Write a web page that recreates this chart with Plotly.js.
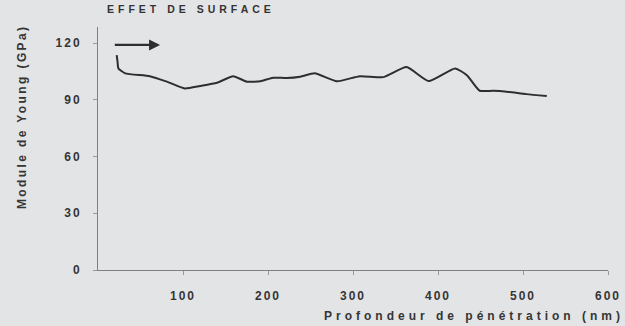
<!DOCTYPE html>
<html>
<head>
<meta charset="utf-8">
<script src="https://cdn.plot.ly/plotly-3.0.1.min.js"></script>
<style>
html,body{margin:0;padding:0;background:#e3e4e6;}
#chart{width:625px;height:326px;}
.annotation-text{letter-spacing:4px;}
.annotation[data-index="3"] .annotation-text{letter-spacing:2.4px;}
.xtick text,.ytick text{letter-spacing:2px;}
</style>
</head>
<body>
<div id="chart"></div>
<script>
// Penetration depth (nm) and Young's modulus (GPa)
const depth = [22, 23, 24, 32, 61, 81, 102, 120, 140, 159, 175, 191, 206, 222, 238, 255, 281, 308, 336, 363, 389, 420, 434, 449, 465, 481, 504, 528];
const modulus = [113.6, 110, 106.6, 104, 102.5, 99.6, 96, 97.3, 99, 102.5, 99.6, 99.8, 101.7, 101.5, 102.2, 104, 99.8, 102.5, 102, 107.3, 99.9, 106.6, 103, 94.8, 94.8, 94.3, 93, 92];
const xTicks = [100, 200, 300, 400, 500, 600];
const yTicks = [0, 30, 60, 90, 120];
const titleX = "Profondeur de pénétration (nm)";
const titleY = "Module de Young (GPa)";
const note = "EFFET DE SURFACE";

const fam = "Liberation Sans, Arial, sans-serif";
const tickFont = {family: fam, size: 12, color: "#353535", weight: 700};

Plotly.newPlot("chart", [{
  x: depth, y: modulus, type: "scatter", mode: "lines",
  line: {color: "#2e2e2e", width: 2, shape: "spline", smoothing: 0.5},
  hoverinfo: "skip"
}], {
  width: 625, height: 326,
  margin: {l: 98, r: 17, t: 27, b: 56},
  paper_bgcolor: "#e3e4e6", plot_bgcolor: "#e3e4e6",
  showlegend: false,
  xaxis: {
    range: [0, 600], tickvals: xTicks, ticktext: xTicks.map(String),
    showgrid: false, zeroline: false, showline: true, linecolor: "#808080", linewidth: 1,
    ticks: "outside", ticklen: 4, tickcolor: "#9a9a9a", ticklabelstandoff: 11,
    tickfont: tickFont
  },
  yaxis: {
    range: [0, 128.5], tickvals: yTicks, ticktext: yTicks.map(String),
    showgrid: false, zeroline: false, showline: true, linecolor: "#808080", linewidth: 1,
    ticks: "outside", ticklen: 4, tickcolor: "#9a9a9a", ticklabelstandoff: 9,
    tickfont: tickFont
  },
  annotations: [
    {xref: "x", yref: "y", x: 73, y: 119, axref: "x", ayref: "y", ax: 18, ay: 119,
     text: "", showarrow: true, arrowhead: 2, arrowsize: 1, arrowwidth: 2.2, arrowcolor: "#2e2e2e"},
    {xref: "x", yref: "paper", x: 8, y: 1.04, xanchor: "left", yanchor: "bottom", showarrow: false,
     text: note, font: {family: fam, size: 10.5, color: "#333", weight: 700}},
    {xref: "paper", yref: "paper", x: 1.035, y: -0.19, xanchor: "right", yanchor: "middle", showarrow: false,
     text: titleX, font: {family: fam, size: 12, color: "#353535", weight: 700}},
    {xref: "paper", yref: "paper", x: -0.149, y: 0.63, xanchor: "center", yanchor: "middle", showarrow: false,
     textangle: -90, text: titleY, font: {family: fam, size: 12, color: "#353535", weight: 700}}
  ]
}, {displayModeBar: false, staticPlot: true});
</script>
</body>
</html>
